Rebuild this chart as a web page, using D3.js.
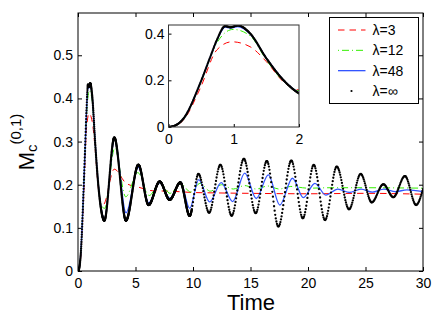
<!DOCTYPE html>
<html>
<head>
<meta charset="utf-8">
<script src="https://cdn.jsdelivr.net/npm/d3@7"></script>
<style>
  body { margin: 0; background: #fff; }
  svg { display: block; font-family: "Liberation Sans", Arial, sans-serif; }
</style>
</head>
<body>
<div id="container"></div>
<script>
// Chart size
const width = 436;
const height = 319;

// Series values: [time, value]
const lam3 = [[0,0],[0.1,0.005],[0.23,0.03],[0.485,0.165],[0.74,0.33],[0.97,0.365],[1.25,0.344],
  [1.5,0.28],[1.76,0.194],[2.0,0.158],[2.2,0.154],[3.15,0.236],[4.2,0.203],[5.3,0.194],[6.5,0.186],
  [8,0.185],[10,0.182],[12,0.181],[15,0.18],[20,0.179],[25,0.18],[30,0.178]];

const lam12 = [[0,0],[0.1,0.006],[0.23,0.036],[0.485,0.185],[0.74,0.36],[0.99,0.418],[1.25,0.391],
  [1.5,0.287],[1.76,0.197],[2.0,0.155],[2.3,0.145],[3.2,0.285],[4.15,0.172],[5.2,0.228],[6.2,0.175],
  [7.1,0.205],[8.0,0.18],[8.9,0.203],[9.8,0.183],[10.6,0.203],[11.5,0.185],[12.5,0.2],[13.5,0.19],
  [14.5,0.198],[15.5,0.19],[16.5,0.197],[17.5,0.19],[18.5,0.196],[20,0.192],[22,0.193],[25,0.193],[30,0.192]];

const lam48 = [[0,0],[0.1,0.006],[0.23,0.036],[0.485,0.187],[0.64,0.3],[0.74,0.37],[0.87,0.428],
  [0.95,0.424],[1.06,0.43],[1.25,0.399],[1.5,0.295],[1.76,0.202],[2.0,0.147],[2.3,0.122],[3.17,0.305],
  [4.18,0.135],[5.25,0.24],[6.15,0.158],[7.1,0.205],[8.0,0.168],[8.9,0.207],[9.72,0.145],[10.5,0.212],
  [11.45,0.16],[12.45,0.205],[13.45,0.161],[14.5,0.227],[15.5,0.168],[16.55,0.223],[17.55,0.153],
  [18.65,0.215],[19.6,0.17],[20.6,0.203],[21.55,0.176],[22.6,0.19],[23.6,0.182],[24.6,0.19],
  [25.6,0.183],[26.6,0.19],[27.6,0.184],[28.6,0.188],[30,0.184]];

const lamInf = [[0,0],[0.1,0.006],[0.23,0.036],[0.485,0.187],[0.64,0.3],[0.74,0.372],[0.87,0.432],
  [0.95,0.427],[1.06,0.435],[1.25,0.401],[1.5,0.294],[1.76,0.201],[2.0,0.144],[2.29,0.117],[3.16,0.309],
  [4.17,0.117],[5.25,0.246],[6.14,0.153],[7.1,0.207],[7.97,0.165],[8.9,0.205],[9.71,0.128],[10.47,0.225],
  [11.4,0.135],[12.38,0.246],[13.36,0.128],[14.42,0.26],[15.45,0.134],[16.42,0.255],[17.42,0.103],
  [18.55,0.256],[19.55,0.122],[20.5,0.246],[21.48,0.118],[22.5,0.242],[23.57,0.143],[24.58,0.225],
  [25.54,0.159],[26.55,0.201],[27.42,0.171],[28.43,0.22],[29.4,0.153],[30,0.19]];

// Tick labels and legend text
const xTicks = [0, 5, 10, 15, 20, 25, 30];
const yTicks = [0, 0.1, 0.2, 0.3, 0.4, 0.5];
const insetXTicks = [0, 1, 2];
const insetYTicks = [0, 0.2, 0.4];
const legendLabels = ['λ=3', 'λ=12', 'λ=48', 'λ=∞'];

const series = [
  { data: lam3, color: '#ff0000', dash: '6.5,5', width: 1 },
  { data: lam12, color: '#33ee00', dash: '1,3,7,3', width: 1 },
  { data: lam48, color: '#3355ff', dash: null, width: 1.3 },
  { data: lamInf, color: '#000', dots: true }
];

const svg = d3.select('#container')
  .append('svg')
  .attr('width', width)
  .attr('height', height);

// Main scales
const x = d3.scaleLinear().domain([0, 30]).range([78, 423]);
const y = d3.scaleLinear().domain([0, 0.598]).range([271, 13]);

// Inset scales
const ix = d3.scaleLinear().domain([0, 2]).range([168.5, 299]);
const iy = d3.scaleLinear().domain([0, 0.437]).range([127, 25]);

const defs = svg.append('defs');
defs.append('clipPath').attr('id', 'clipMain').append('rect')
  .attr('x', 78).attr('y', 13).attr('width', 345).attr('height', 258);
defs.append('clipPath').attr('id', 'clipInset').append('rect')
  .attr('x', 168.5).attr('y', 25).attr('width', 130.5).attr('height', 102);

// turn a drawn path into points spaced evenly in x (like marker samples)
function sampleAt(pathNode, xs) {
  const total = pathNode.getTotalLength();
  const table = [];
  for (let l = 0; l <= total; l += 0.25) table.push(pathNode.getPointAtLength(l));
  table.push(pathNode.getPointAtLength(total));
  let j = 0;
  return xs.map(px => {
    while (j < table.length - 2 && table[j + 1].x < px) j++;
    const a = table[j], b = table[j + 1];
    const f = b.x === a.x ? 0 : Math.max(0, Math.min(1, (px - a.x) / (b.x - a.x)));
    return { x: a.x + f * (b.x - a.x), y: a.y + f * (b.y - a.y) };
  });
}

function drawSeries(g, sx, sy, clipId, times, radius) {
  const line = d3.line()
    .x(d => sx(d[0]))
    .y(d => sy(d[1]))
    .curve(d3.curveMonotoneX);
  const layer = g.append('g').attr('clip-path', `url(#${clipId})`);
  series.forEach(s => {
    const p = layer.append('path')
      .attr('d', line(s.data))
      .attr('fill', 'none')
      .attr('stroke', s.color)
      .attr('stroke-width', s.width || 1)
      .attr('stroke-dasharray', s.dash);
    if (s.dots) {
      p.attr('stroke', 'none');
      const pts = sampleAt(p.node(), times.map(t => sx(t)));
      layer.selectAll(null)
        .data(pts)
        .enter().append('circle')
        .attr('cx', d => d.x)
        .attr('cy', d => d.y)
        .attr('r', radius)
        .attr('fill', '#000');
    }
  });
}

// marker sample times: dense before t=10, sparser after
const mainTimes = d3.range(0, 9.9, 0.01).concat(d3.range(9.9, 30.001, 0.05));
const insetTimes = d3.range(0, 2.001, 0.008);

// Main axes
const axisFont = g => g.attr('font-family', null).attr('font-size', 14)
  .call(g => g.select('.domain').remove())
  .call(g => g.selectAll('line').attr('stroke', '#000'));

svg.append('g').attr('transform', 'translate(0,271)')
  .call(d3.axisBottom(x).tickValues(xTicks).tickSize(-4).tickPadding(7).tickFormat(d3.format('d')))
  .call(axisFont);
svg.append('g').attr('transform', 'translate(0,13)')
  .call(d3.axisTop(x).tickValues(xTicks).tickSize(-4).tickFormat(''))
  .call(axisFont);
svg.append('g').attr('transform', 'translate(78,0)')
  .call(d3.axisLeft(y).tickValues(yTicks).tickSize(-4).tickPadding(5).tickFormat(d => d === 0 ? '0' : d3.format('.1f')(d)))
  .call(axisFont);
svg.append('g').attr('transform', 'translate(423,0)')
  .call(d3.axisRight(y).tickValues(yTicks).tickSize(-4).tickFormat(''))
  .call(axisFont);

svg.append('rect')
  .attr('x', 78).attr('y', 13).attr('width', 345).attr('height', 258)
  .attr('fill', 'none').attr('stroke', '#000');

drawSeries(svg, x, y, 'clipMain', mainTimes, 1.15);

// Inset
svg.append('rect')
  .attr('x', 168.5).attr('y', 25).attr('width', 130.5).attr('height', 102)
  .attr('fill', '#fff').attr('stroke', 'none');

svg.append('g').attr('transform', 'translate(0,127)')
  .call(d3.axisBottom(ix).tickValues(insetXTicks).tickSize(-3).tickPadding(7).tickFormat(d3.format('d')))
  .call(axisFont);
svg.append('g').attr('transform', 'translate(168.5,0)')
  .call(d3.axisLeft(iy).tickValues(insetYTicks).tickSize(-3).tickPadding(4).tickFormat(d => d === 0 ? '0' : d3.format('.1f')(d)))
  .call(axisFont);

drawSeries(svg, ix, iy, 'clipInset', insetTimes, 1.1);

svg.append('rect')
  .attr('x', 168.5).attr('y', 25).attr('width', 130.5).attr('height', 102)
  .attr('fill', 'none').attr('stroke', '#333');

// Legend
const legend = svg.append('g');
legend.append('rect')
  .attr('x', 329.5).attr('y', 17.5).attr('width', 89).attr('height', 86)
  .attr('fill', '#fff').attr('stroke', '#000');

const rowY = d3.scalePoint().domain(legendLabels).range([30, 91]);
legendLabels.forEach((label, i) => {
  const s = series[i];
  const ly = rowY(label);
  if (s.dots) {
    legend.append('circle').attr('cx', 351.5).attr('cy', ly).attr('r', 1.1).attr('fill', '#000');
  } else {
    legend.append('line')
      .attr('x1', 338).attr('x2', 365.5).attr('y1', ly).attr('y2', ly)
      .attr('stroke', s.color).attr('stroke-width', s.width)
      .attr('stroke-dasharray', s.dash);
  }
  legend.append('text')
    .attr('x', 372.5).attr('y', ly).attr('dy', '0.35em')
    .attr('font-size', 14)
    .text(label);
});

// Axis titles
svg.append('text')
  .attr('x', 251).attr('y', 310)
  .attr('text-anchor', 'middle')
  .attr('font-size', 22)
  .text('Time');

const yl = svg.append('text')
  .attr('transform', 'translate(33.5,142) rotate(-90)')
  .attr('text-anchor', 'middle');
yl.append('tspan').attr('font-size', 22).text('M');
yl.append('tspan').attr('font-size', 15).attr('dy', 3).text('c');
yl.append('tspan').attr('font-size', 15).attr('dy', -16).text('(0,1)');
</script>
</body>
</html>
